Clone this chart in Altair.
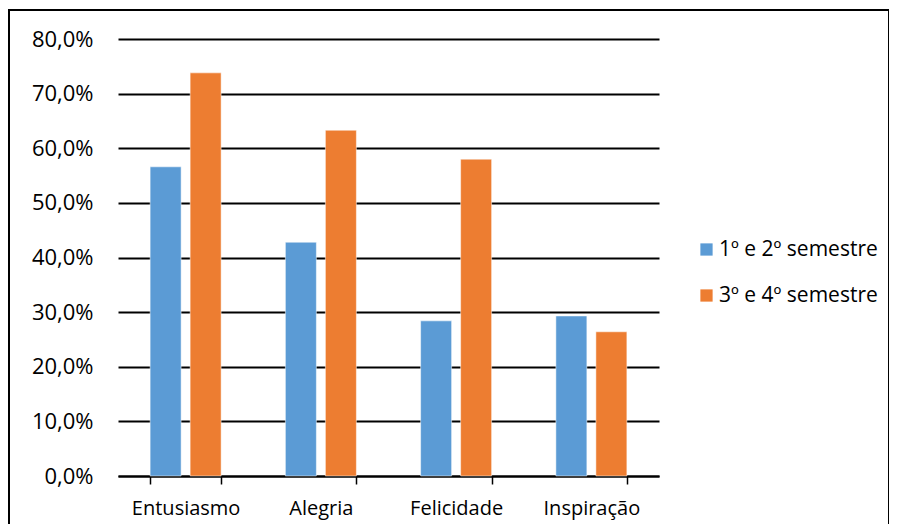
import altair as alt
import pandas as pd

categories = ["Entusiasmo", "Alegria", "Felicidade", "Inspiração"]
series = ["1º e 2º semestre", "3º e 4º semestre"]
values_s1 = [56.6, 42.8, 28.4, 29.3]
values_s2 = [73.8, 63.3, 58.0, 26.4]
colors = ["#5B9BD5", "#ED7D31"]

rows = []
for c, a, b in zip(categories, values_s1, values_s2):
    rows.append({"cat": c, "serie": series[0], "val": a / 100})
    rows.append({"cat": c, "serie": series[1], "val": b / 100})
df = pd.DataFrame(rows)

FONT = "Open Sans"

bars = alt.Chart(df).mark_bar(stroke="white", strokeWidth=0.5).encode(
    x=alt.X("cat:N", sort=categories, title=None,
            scale=alt.Scale(paddingInner=0.475, paddingOuter=0.2375),
            axis=alt.Axis(labelAngle=0, labelFont=FONT, labelFontSize=20,
                          labelColor="black", domainColor="black", domainWidth=2,
                          tickColor="black", tickWidth=1.5, tickSize=8,
                          tickBand="extent", labelPadding=14, grid=False)),
    xOffset=alt.XOffset("serie:N", sort=series,
                        scale=alt.Scale(paddingInner=0.225, paddingOuter=0)),
    y=alt.Y("val:Q", title=None,
            scale=alt.Scale(domain=[0, 0.8], nice=False),
            axis=alt.Axis(format=".1%", values=[i / 10 for i in range(9)],
                          labelExpr="replace(format(datum.value*100, '.1f'), '.', ',') + '%'",
                          labelFont=FONT, labelFontSize=22, labelColor="black",
                          domain=False, ticks=False, labelPadding=25,
                          grid=True, gridColor="black", gridWidth=2)),
    color=alt.Color("serie:N", sort=series, title=None,
                    scale=alt.Scale(domain=series, range=colors),
                    legend=alt.Legend(orient="none", legendX=578, legendY=200,
                                      symbolType="square", symbolSize=150,
                                      symbolStrokeWidth=0, labelLimit=400,
                                      labelFont=FONT, labelFontSize=21,
                                      labelColor="black", rowPadding=24,
                                      labelOffset=2)),
)

frame = alt.Chart(pd.DataFrame({"k": [0]})).mark_rect(
    fill="transparent", stroke="black", strokeWidth=2
).encode(
    x=alt.value(-109), x2=alt.value(771),
    y=alt.value(-29), y2=alt.value(510),
)

chart = alt.layer(bars, frame).properties(
    width=541, height=437,
    autosize=alt.AutoSizeParams(type="none"),
    padding={"left": 110, "top": 31, "right": 230, "bottom": 48},
).configure_view(stroke=None)

chart.save("out.html", embed_options={"renderer": "svg", "actions": False})
